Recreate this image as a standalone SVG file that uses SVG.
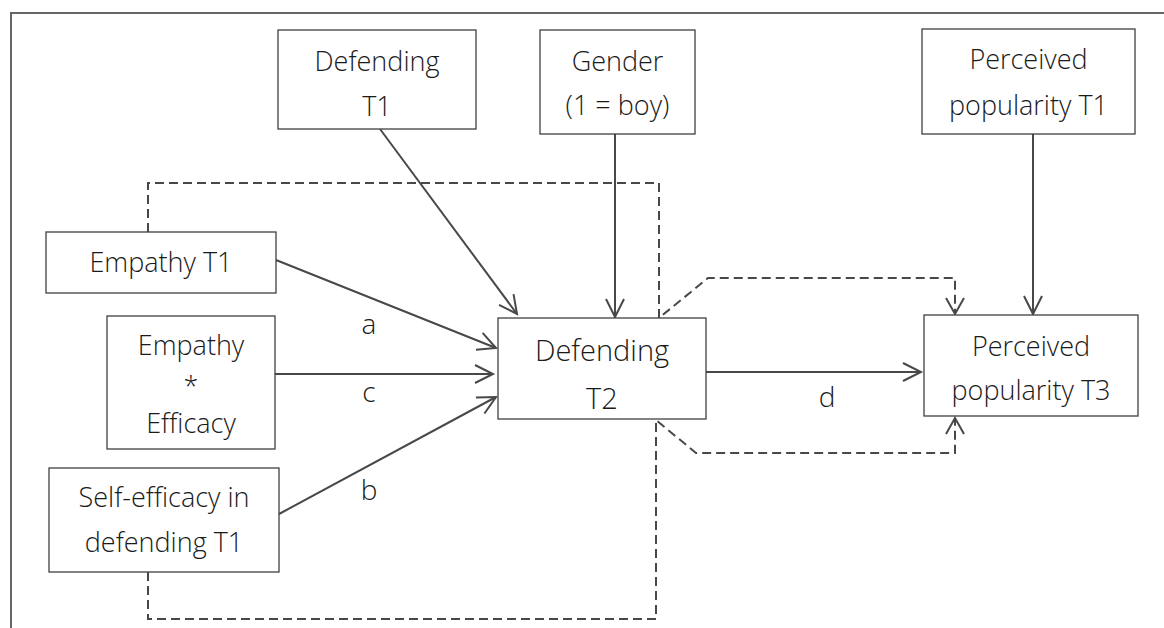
<svg xmlns="http://www.w3.org/2000/svg" width="1164" height="628" viewBox="0 0 1164 628">
<defs>
<style>
.box{fill:#fff;stroke:#404040;stroke-width:1.3}
.t{font-family:"Open Sans","Liberation Sans",sans-serif;font-weight:300;font-size:27px;fill:#1a1a1a;text-anchor:middle}
.big{font-size:29px}
.lbl{font-size:28px}
.c{fill:none;stroke:#484848;stroke-width:2}
.d{fill:none;stroke:#484848;stroke-width:2;stroke-dasharray:9 5}
.frame{fill:none;stroke:#666;stroke-width:2}
</style>
<marker id="ah" markerUnits="userSpaceOnUse" markerWidth="24" markerHeight="24" viewBox="-20 -12 24 24" refX="0" refY="0" orient="auto">
<path d="M-18,-9 L0,0 L-18,9" fill="none" stroke="#484848" stroke-width="2"/>
</marker>
<marker id="ahd" markerUnits="userSpaceOnUse" markerWidth="24" markerHeight="24" viewBox="-20 -12 24 24" refX="0" refY="0" orient="auto">
<path d="M-16,-9 L0,0 L-16,9" fill="none" stroke="#484848" stroke-width="2"/>
</marker>
</defs>
<rect width="1164" height="628" fill="#fff"/>
<path class="frame" d="M11,628 V13 H1164"/>

<g id="connectors">
<path class="d" d="M148,232 V183 H659 V318 L708,278 H955 V314" marker-end="url(#ahd)"/>
<path class="d" d="M148,572 V619 H656 V420 L696,453 H955 V418" marker-end="url(#ahd)"/>
<path class="c" d="M380,129 L517,314" marker-end="url(#ah)"/>
<path class="c" d="M615,134 V317" marker-end="url(#ah)"/>
<path class="c" d="M1033,134 V314" marker-end="url(#ah)"/>
<path class="c" d="M276,260 L496,348" marker-end="url(#ah)"/>
<path class="c" d="M275,374 L493,374" marker-end="url(#ah)"/>
<path class="c" d="M279,514 L496,397" marker-end="url(#ah)"/>
<path class="c" d="M706,372 L921,372" marker-end="url(#ah)"/>
<text class="t lbl" x="369" y="334">a</text>
<text class="t lbl" x="369" y="402">c</text>
<text class="t lbl" x="369" y="500">b</text>
<text class="t lbl" x="827" y="407">d</text>
</g>

<g id="defending-t1">
<rect class="box" x="278" y="30" width="198" height="99"/>
<text class="t" x="377" y="71">Defending</text>
<text class="t" x="377" y="116">T1</text>
</g>
<g id="gender">
<rect class="box" x="540" y="30" width="155" height="104"/>
<text class="t" x="617.5" y="71">Gender</text>
<text class="t" x="617.5" y="115">(1 = boy)</text>
</g>
<g id="popularity-t1">
<rect class="box" x="922" y="29" width="213" height="105"/>
<text class="t" x="1028.5" y="69">Perceived</text>
<text class="t" x="1028.5" y="115">popularity T1</text>
</g>
<g id="empathy-t1">
<rect class="box" x="46" y="232" width="230" height="61"/>
<text class="t" x="161" y="272">Empathy T1</text>
</g>
<g id="empathy-efficacy">
<rect class="box" x="107" y="316" width="168" height="133"/>
<text class="t" x="191" y="355">Empathy</text>
<text class="t" x="191" y="396">*</text>
<text class="t" x="191" y="433">Efficacy</text>
</g>
<g id="self-efficacy">
<rect class="box" x="49" y="468" width="230" height="104"/>
<text class="t" x="164" y="507">Self-efficacy in</text>
<text class="t" x="164" y="552">defending T1</text>
</g>
<g id="defending-t2">
<rect class="box" x="498" y="318" width="208" height="101"/>
<text class="t big" x="602" y="361">Defending</text>
<text class="t big" x="602" y="409">T2</text>
</g>
<g id="popularity-t3">
<rect class="box" x="924" y="315" width="214" height="101"/>
<text class="t" x="1031" y="356">Perceived</text>
<text class="t" x="1031" y="400">popularity T3</text>
</g>
</svg>
